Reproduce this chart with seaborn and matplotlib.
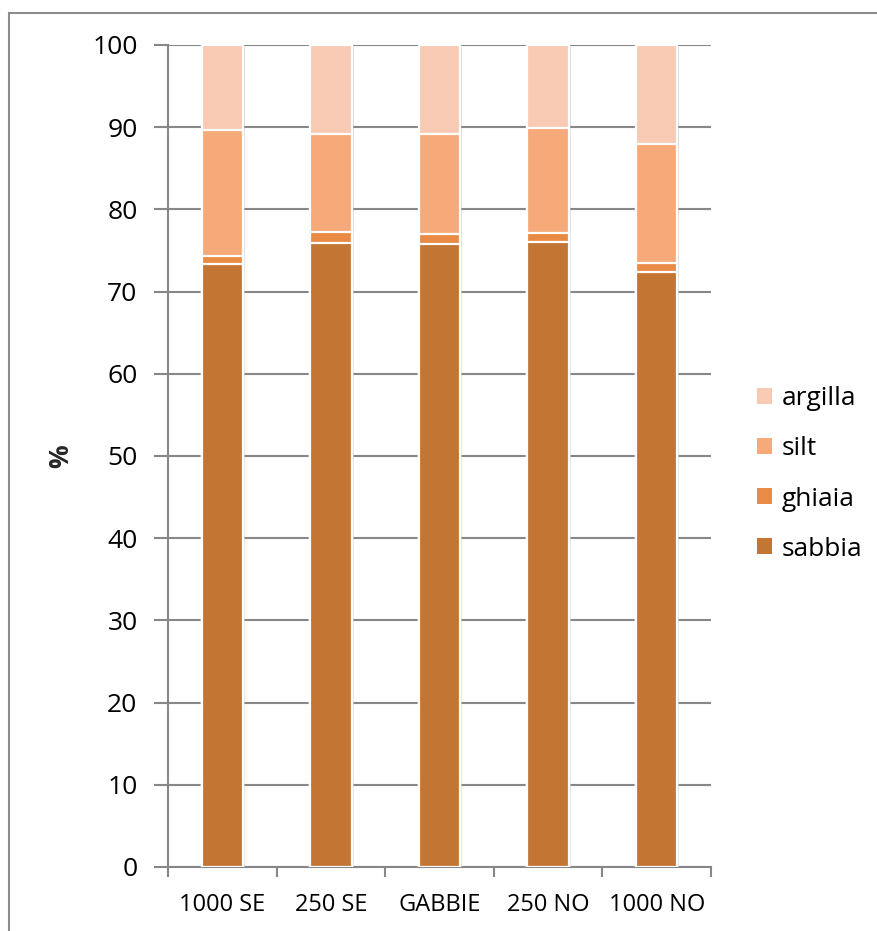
import numpy as np
import pandas as pd
import seaborn as sns
import matplotlib
matplotlib.use("Agg")
import matplotlib.pyplot as plt
from matplotlib.patches import Rectangle, Patch
import matplotlib.patheffects as pe

# Grain-size composition (%) at each sampling station
stations = ["1000 SE", "250 SE", "GABBIE", "250 NO", "1000 NO"]
sabbia = [73.4, 75.9, 75.8, 76.0, 72.4]
ghiaia = [0.9, 1.4, 1.2, 1.1, 1.1]
silt = [15.3, 11.9, 12.2, 12.8, 14.4]
argilla = [10.4, 10.8, 10.8, 10.1, 12.1]

components = ["sabbia", "ghiaia", "silt", "argilla"]
colors = {"sabbia": "#C37534", "ghiaia": "#E98B44",
          "silt": "#F6AA79", "argilla": "#F8CAB3"}
yticks = list(range(0, 101, 10))

df = pd.DataFrame({"stazione": stations, "sabbia": sabbia, "ghiaia": ghiaia,
                   "silt": silt, "argilla": argilla})
cum = df[components].cumsum(axis=1)

sns.set_style("white")
plt.rcParams["font.family"] = ["Open Sans", "DejaVu Sans"]
plt.rcParams["text.color"] = "black"
plt.rcParams["xtick.labelcolor"] = "black"
plt.rcParams["ytick.labelcolor"] = "black"

fig = plt.figure(figsize=(8.77, 9.31), dpi=100)
ax = fig.add_axes([168 / 877, 1 - 867 / 931, (711 - 168) / 877, (867 - 45) / 931])

# stacked bars: draw cumulative totals from the top layer down
for i, comp in enumerate(reversed(components)):
    sns.barplot(x=df["stazione"], y=cum[comp], color=colors[comp], ax=ax,
                width=0.38, edgecolor="white", linewidth=1.6, saturation=1,
                zorder=3 + i)
    if i == 0:
        for p in ax.patches:
            p.set_path_effects([pe.SimplePatchShadow(offset=(1.5, -1.5),
                                                     shadow_rgbFace="#999999",
                                                     alpha=0.35), pe.Normal()])

ax.set_ylim(0, 100)
ax.set_xlim(-0.5, len(stations) - 0.5)
ax.set_yticks(yticks)
ax.yaxis.grid(True, color="#878787", linewidth=1.5, zorder=0)
ax.set_axisbelow(True)

for s in ["top", "right"]:
    ax.spines[s].set_visible(False)
for s in ["left", "bottom"]:
    ax.spines[s].set_color("#878787")
    ax.spines[s].set_linewidth(1.5)

ax.tick_params(axis="y", direction="out", length=10, width=1.5, color="#878787",
               pad=12, labelsize=19, left=True)
ax.set_xticks(np.arange(len(stations) + 1) - 0.5, minor=True)
ax.tick_params(axis="x", which="minor", direction="out", length=7, width=1.5,
               color="#878787", bottom=True)
ax.tick_params(axis="x", which="major", length=0, pad=19, labelsize=17)

ax.set_xlabel("")
ax.set_ylabel("%", fontsize=19, fontweight="bold", labelpad=13)

handles = [Patch(facecolor=colors[c], edgecolor="none") for c in reversed(components)]
fig.legend(handles, list(reversed(components)), loc="center left",
           bbox_to_anchor=(757 / 877, 1 - 474 / 931), frameon=False,
           fontsize=19, handlelength=0.55, handleheight=0.55, handletextpad=0.4,
           labelspacing=0.95, borderpad=0, borderaxespad=0)

# outer chart frame
fig.patches.append(Rectangle((9 / 877, -0.05), 1.1, 1 - 13 / 931 + 0.05,
                             transform=fig.transFigure, fill=False,
                             edgecolor="#8C8C8C", linewidth=1.5))

fig.savefig("out.png", dpi=100)
